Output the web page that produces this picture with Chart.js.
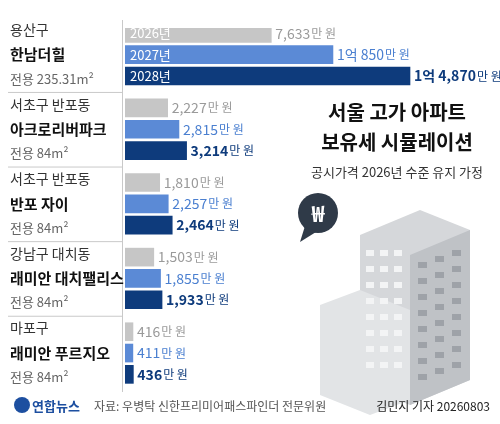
<!DOCTYPE html>
<html><head><meta charset="utf-8">
<script src="https://cdn.jsdelivr.net/npm/chart.js@4"></script>
<style>html,body{margin:0;padding:0;background:#fff}#w{width:500px;height:424px;position:relative}</style>
</head><body><div id="w"><canvas id="c"></canvas></div>
<script>
const complexes=["한남더힐","아크로리버파크","반포 자이","래미안 대치팰리스","래미안 푸르지오"];
const districts=["용산구","서초구 반포동","서초구 반포동","강남구 대치동","마포구"];
const areas=["전용 235.31m²","전용 84m²","전용 84m²","전용 84m²","전용 84m²"];
const years=["2026년","2027년","2028년"];
const tax2026=[7633,2227,1810,1503,416];
const tax2027=[10850,2815,2257,1855,411];
const tax2028=[14870,3214,2464,1933,436];
const colors=["#c6c6c6","#5b8ad6","#0e3b7c"];
const labelColors=["#9a9a9a","#4a7fd0","#0e3b7c"];
const F="'Noto Sans CJK KR','Noto Sans',sans-serif";
const SLOTS=35, slots=[...Array(SLOTS).keys()].map(String);
function slotData(vals,r){const a=Array(SLOTS).fill(null);vals.forEach((v,g)=>a[g*7+r*2]=v);return a;}
const series=[tax2026,tax2027,tax2028];
function fmt(v){const e=Math.floor(v/10000),m=v%10000;const ms=m.toLocaleString('en-US');return e?[e+"억 "+ms,"만 원"]:[ms,"만 원"];}
const deco={id:'deco',beforeDatasetsDraw(ch){const c=ch.ctx;c.save();
 // buildings
 c.fillStyle="#d5d7da";c.beginPath();c.moveTo(360,235);c.lineTo(420,210);c.lineTo(470,230);c.lineTo(470,380);c.lineTo(410,405);c.lineTo(360,385);c.closePath();c.fill();
 c.fillStyle="#bfc2c6";c.beginPath();c.moveTo(410,255);c.lineTo(470,230);c.lineTo(470,380);c.lineTo(410,405);c.closePath();c.fill();
 c.fillStyle="#e2e4e6";c.beginPath();c.moveTo(320,305);c.lineTo(360,290);c.lineTo(410,310);c.lineTo(410,400);c.lineTo(370,415);c.lineTo(320,395);c.closePath();c.fill();
 c.fillStyle="#f3f4f5";for(let i=0;i<8;i++){for(let j=0;j<3;j++){c.fillRect(366+j*14,250+i*16+j*0,8,6);}}
 c.fillStyle="#9ea2a8";for(let i=0;i<8;i++){for(let j=0;j<3;j++){c.fillRect(418+j*17,262+i*16-j*6,9,6);}}
 c.fillStyle="#2f3a48";c.beginPath();c.arc(318,213,20,0,Math.PI*2);c.fill();
 c.beginPath();c.moveTo(305,226);c.lineTo(300,242);c.lineTo(316,232);c.fill();
 c.fillStyle="#fff";c.font="bold 22px "+F;c.textAlign="center";c.textBaseline="middle";c.fillText("₩",318,214);
 c.restore();},
 afterDatasetsDraw(ch){const c=ch.ctx,y=ch.scales.y,x=ch.scales.x;c.save();c.textBaseline="middle";
 c.strokeStyle="#c9c9c9";c.lineWidth=1;
 c.beginPath();c.moveTo(122.5,20);c.lineTo(122.5,392);c.stroke();
 for(let g=0;g<5;g++){const mid=y.getPixelForValue(g*7+2);
  if(g>0){const ly=y.getPixelForValue(g*7-1.5);c.beginPath();c.moveTo(8,ly+0.5);c.lineTo(122,ly+0.5);c.stroke();}
  c.textAlign="left";c.fillStyle="#333";c.font="14px "+F;c.fillText(districts[g],10,mid-25);
  c.fillStyle="#111";c.font="bold 15px "+F;c.fillText(complexes[g],10,mid);
  c.fillStyle="#666";c.font="13px "+F;c.fillText(areas[g],10,mid+24);
  for(let r=0;r<3;r++){const v=series[r][g],py=y.getPixelForValue(g*7+r*2),px=x.getPixelForValue(v);
   const [n,u]=fmt(v);c.fillStyle=labelColors[r];c.font=(r==2?"bold ":"")+"14px "+F;c.fillText(n,px+4,py);
   const w=c.measureText(n).width;c.font="12px "+F;c.fillText(u,px+5+w,py);
   if(g==0){c.fillStyle="#fff";c.font="13px "+F;c.fillText(years[r],130,py);}}
 }
 c.textAlign="center";c.fillStyle="#111";c.font="bold 20px "+F;c.fillText("서울 고가 아파트",397,112);c.fillText("보유세 시뮬레이션",397,142);
 c.font="13px "+F;c.fillStyle="#333";c.fillText("공시가격 2026년 수준 유지 가정",397,172);
 c.textAlign="left";c.fillStyle="#1d4fa0";c.beginPath();c.arc(22,405,8,0,Math.PI*2);c.fill();
 c.fillStyle="#1d4fa0";c.font="bold 13px "+F;c.fillText("연합뉴스",32,406);
 c.fillStyle="#555";c.font="12px "+F;c.fillText("자료: 우병탁 신한프리미어패스파인더 전문위원",94,406);
 c.textAlign="right";c.fillStyle="#222";c.font="12px "+F;c.fillText("김민지 기자 20260803",490,406);
 c.restore();}};
new Chart(document.getElementById('c'),{type:'bar',
 data:{labels:slots,datasets:series.map((s,r)=>({data:slotData(s,r),backgroundColor:colors[r],barThickness:18,grouped:false}))},
 options:{indexAxis:'y',responsive:true,maintainAspectRatio:false,animation:false,
  layout:{padding:{left:125,right:0,top:28,bottom:23}},
  plugins:{legend:{display:false},tooltip:{enabled:false}},
  scales:{x:{display:false,min:0,max:19566},y:{display:false}}},
 plugins:[deco]});
</script></body></html>
